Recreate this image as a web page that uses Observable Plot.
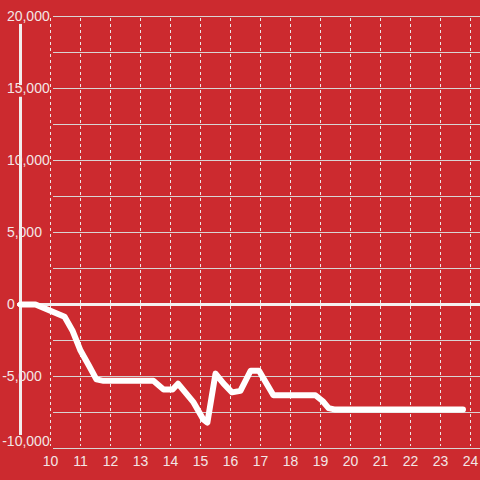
<!DOCTYPE html>
<html>
<head>
<meta charset="utf-8">
<script src="https://cdn.jsdelivr.net/npm/d3@7"></script>
<script src="https://cdn.jsdelivr.net/npm/@observablehq/plot@0.6"></script>
<style>
  html, body { margin: 0; padding: 0; background: #cc2a2f; }
</style>
</head>
<body>
<div id="chart"></div>
<script>
// Series
const hours  = [9, 9.5, 10.47, 10.73, 11.0, 11.27, 11.53, 11.77, 13.43, 13.77, 14.07, 14.25, 14.77, 15.1, 15.23, 15.5, 15.77, 16.05, 16.33, 16.67, 16.95, 17.43, 18.83, 19.07, 19.27, 19.5, 23.75];
const values = [0, 0, -850, -1800, -3200, -4200, -5200, -5300, -5300, -5900, -5900, -5500, -6800, -8000, -8200, -4800, -5500, -6100, -6000, -4600, -4600, -6300, -6300, -6700, -7200, -7300, -7300];

// Ticks
const xTicks = [10, 11, 12, 13, 14, 15, 16, 17, 18, 19, 20, 21, 22, 23, 24];
const xTickLabels = ["10", "11", "12", "13", "14", "15", "16", "17", "18", "19", "20", "21", "22", "23", "24"];
const yTicks = [20000, 15000, 10000, 5000, 0, -5000, -10000];
const yTickLabels = ["20,000", "15,000", "10,000", "5,000", "0", "-5,000", "-10,000"];
const yGrid = [20000, 17500, 15000, 12500, 10000, 7500, 5000, 2500, -2500, -5000, -7500, -10000];

// Vertical axis bar segments (value ranges)
const axisBarX = 9;
const axisBarStart = [19450, 14400];
const axisBarEnd = [15200, -9100];

const data = hours.map((h, i) => ({h, v: values[i]}));
const bars = axisBarStart.map((s, i) => ({x: axisBarX, y1: s, y2: axisBarEnd[i]}));
const yLab = yTicks.map((t, i) => ({t, s: yTickLabels[i]}));
const xLab = xTicks.map((t, i) => ({t, s: xTickLabels[i]}));

const bg = "#cc2a2f";
const txt = "#f3e6e6";

const chart = Plot.plot({
  width: 480,
  height: 480,
  marginLeft: 17,
  marginRight: 0,
  marginTop: 16,
  marginBottom: 32,
  style: {background: bg, fontFamily: "'Liberation Sans', Arial, sans-serif", fontSize: "14px"},
  x: {domain: [8.9, 24.3333], axis: null},
  y: {domain: [-10000, 20000], axis: null},
  marks: [
    Plot.ruleY(yGrid, {stroke: "#d9d4d4", strokeWidth: 1, insetLeft: 36}),
    Plot.ruleX(xTicks, {stroke: "#ece6e6", strokeWidth: 1, strokeDasharray: "3,3", insetTop: 2, insetBottom: 2}),
    Plot.ruleY([0], {stroke: "#f4f0f0", strokeWidth: 3}),
    Plot.ruleX(bars, {x: "x", y1: "y1", y2: "y2", stroke: "#f2eeee", strokeWidth: 3}),
    Plot.line(data, {x: "h", y: "v", stroke: "#ffffff", strokeWidth: 6, strokeLinejoin: "round", strokeLinecap: "round"}),
    Plot.text(yLab.filter(d => d.t >= 0), {y: "t", text: "s", frameAnchor: "left", textAnchor: "start", dx: -10.6, fill: txt}),
    Plot.text(yLab.filter(d => d.t < 0 && d.t > -10000), {y: "t", text: "s", frameAnchor: "left", textAnchor: "start", dx: -15.3, fill: txt}),
    Plot.text(yLab.filter(d => d.t === -10000), {y: "t", text: "s", frameAnchor: "left", textAnchor: "start", dx: -15.3, dy: -7, fill: txt}),
    Plot.text(xLab, {x: "t", text: "s", frameAnchor: "bottom", dy: 13, lineAnchor: "middle", fill: txt})
  ]
});
document.getElementById("chart").appendChild(chart);
</script>
</body>
</html>
